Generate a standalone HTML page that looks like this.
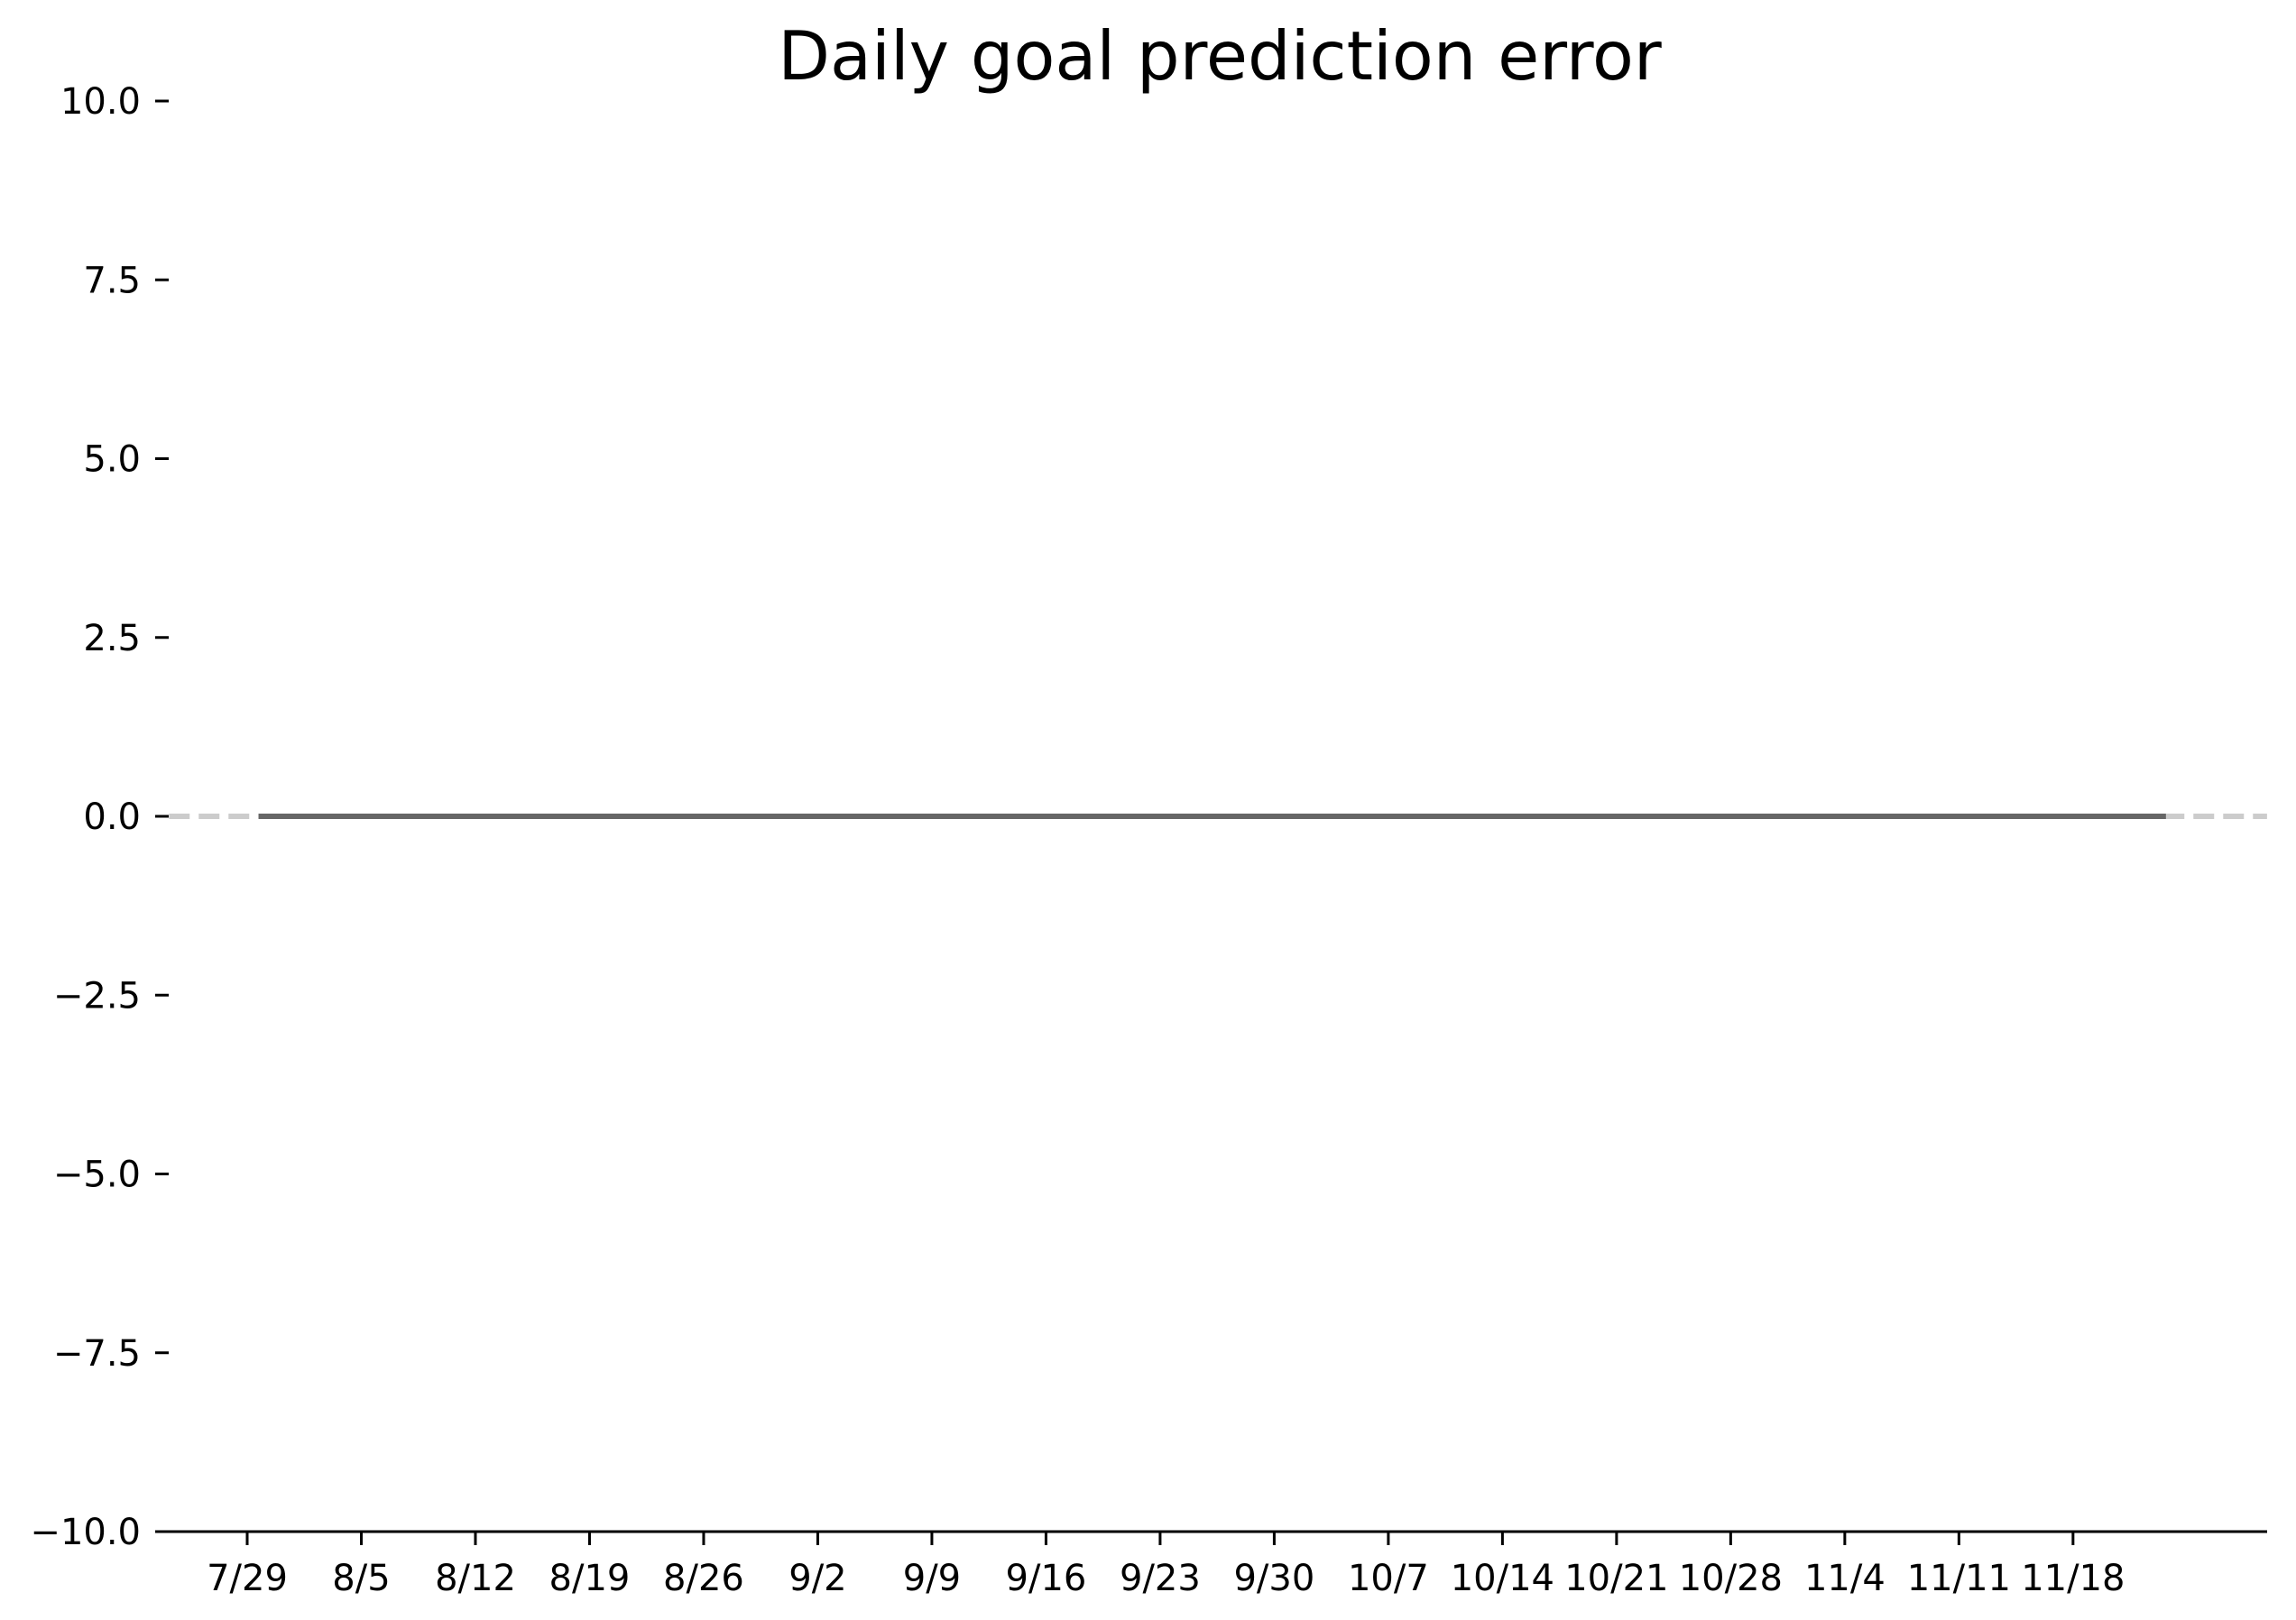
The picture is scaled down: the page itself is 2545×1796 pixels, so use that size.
<!DOCTYPE html>
<html><head><meta charset="utf-8"><style>
html,body{margin:0;padding:0;background:#fff;}
svg{display:block;font-family:"DejaVu Sans","Liberation Sans",sans-serif;}
</style></head><body>
<svg id="chart" width="2545" height="1796" viewBox="0 0 2545 1796" xmlns="http://www.w3.org/2000/svg">
<rect width="2545" height="1796" fill="#fff"/>
<text x="1352" y="88" font-size="75" text-anchor="middle" fill="#000">Daily goal prediction error</text>
<g id="yaxis"></g>
<g id="xaxis"></g>
<g id="series"></g>
</svg>
<script>
const yTicks = [10.0, 7.5, 5.0, 2.5, 0.0, -2.5, -5.0, -7.5, -10.0];
const xTickLabels = ["7/29","8/5","8/12","8/19","8/26","9/2","9/9","9/16","9/23","9/30","10/7","10/14","10/21","10/28","11/4","11/11","11/18"];
const xTickDays = [0,7,14,21,28,35,42,49,56,63,70,77,84,91,98,105,112];
const startDay = 0.7;
const errorValues = new Array(118).fill(0);
const refDay = -4.8;
const refDayEnd = 123.9;

const NS = "http://www.w3.org/2000/svg";
const yMin = -10, yMax = 10, yTop = 112, yBot = 1698;
const xA = 274, dayPx = 18.07;
function ys(v){ return yBot - (v - yMin) / (yMax - yMin) * (yBot - yTop); }
function xs(d){ return xA + d * dayPx; }
function mk(tag, attrs, parent){ const e = document.createElementNS(NS, tag); for (const k in attrs) e.setAttribute(k, attrs[k]); parent.appendChild(e); return e; }

const yg = document.getElementById('yaxis');
yTicks.forEach(v => {
  const y = ys(v);
  const t = mk('line', {x1:172, x2:187, y1:y, y2:y, stroke:'#000', 'stroke-width':3}, yg);
  
  
  const lab = mk('text', {x:156, y:y+14, 'font-size':40, 'text-anchor':'end', fill:'#000'}, yg);
  lab.textContent = (v < 0 ? '\u2212' : '') + Math.abs(v).toFixed(1);
  
  
});

const xg = document.getElementById('xaxis');
const spine = mk('line', {x1:185, x2:2513, y1:yBot, y2:yBot, stroke:'#000', 'stroke-width':3}, xg);


xTickLabels.forEach((s, i) => {
  const x = xs(xTickDays[i]);
  const t = mk('line', {x1:x, x2:x, y1:yBot, y2:yBot+15, stroke:'#000', 'stroke-width':3}, xg);
  
  
  const lab = mk('text', {x:x, y:1763, 'font-size':40, 'text-anchor':'middle', fill:'#000'}, xg);
  lab.textContent = s;
  
  
});

const sg = document.getElementById('series');
const ref = mk('line', {x1:xs(refDay), x2:xs(refDayEnd), y1:ys(0), y2:ys(0), stroke:'#cccccc', 'stroke-width':6, 'stroke-dasharray':'23 10'}, sg);


const pts = errorValues.map((v, i) => xs(startDay + i) + ',' + ys(v)).join(' ');
const pl = mk('polyline', {points:pts, fill:'none', stroke:'#666666', 'stroke-width':6}, sg);


</script>
</body></html>
